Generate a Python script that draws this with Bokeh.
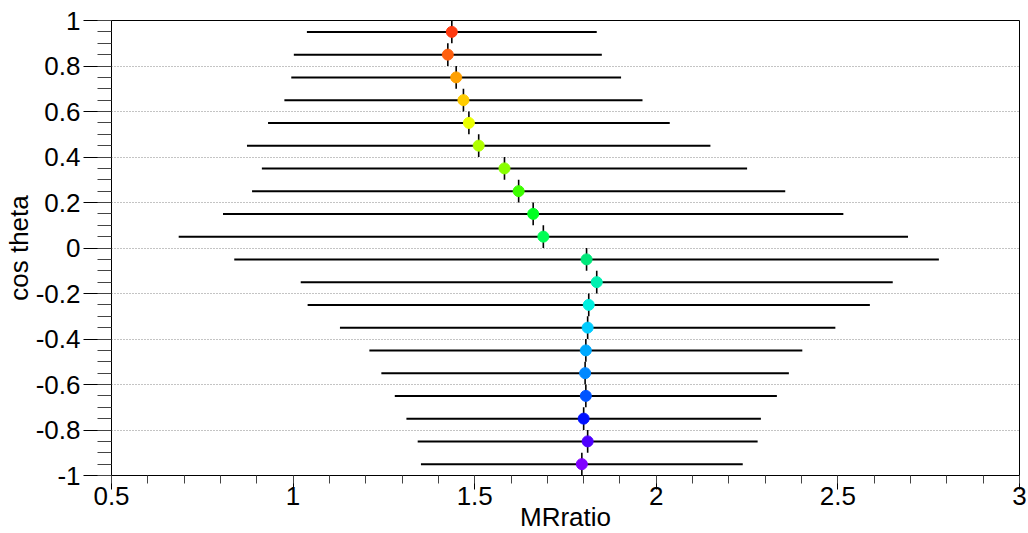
import math
from bokeh.plotting import figure
from bokeh.models import FixedTicker, CustomJSTickFormatter, Range1d, ColumnDataSource
from bokeh.embed import file_html
from bokeh.resources import INLINE

# ---- data ----
cos_theta = [0.95, 0.85, 0.75, 0.65, 0.55, 0.45, 0.35, 0.25, 0.15, 0.05,
             -0.05, -0.15, -0.25, -0.35, -0.45, -0.55, -0.65, -0.75, -0.85, -0.95]
mr_ratio = [1.437, 1.426, 1.449, 1.469, 1.484, 1.511, 1.582, 1.621, 1.661, 1.689,
            1.808, 1.836, 1.814, 1.811, 1.806, 1.804, 1.806, 1.800, 1.811, 1.795]
mr_err = [0.399, 0.424, 0.454, 0.493, 0.553, 0.638, 0.668, 0.734, 0.854, 1.004,
          0.970, 0.815, 0.774, 0.682, 0.596, 0.561, 0.526, 0.488, 0.468, 0.443]
cos_err = [0.05, 0.05, 0.05, 0.05, 0.05, 0.05, 0.05, 0.05, 0.05, 0.05,
           0.05, 0.05, 0.05, 0.05, 0.05, 0.05, 0.05, 0.05, 0.05, 0.05]
point_colors = ["#ff3a10", "#ff6010", "#ffa000", "#ffcc00", "#eaff00",
                "#b0ff00", "#88ff00", "#3cff00", "#00ff22", "#00ff55",
                "#00e87a", "#00f0b0", "#00f0e0", "#00ccff", "#00aaff",
                "#0088ff", "#0055ff", "#0010ff", "#5000ff", "#8000ff"]
x_ticks = [0.5, 1.0, 1.5, 2.0, 2.5, 3.0]
y_ticks = [-1.0, -0.8, -0.6, -0.4, -0.2, 0.0, 0.2, 0.4, 0.6, 0.8, 1.0]
x_title = "MRratio"
y_title = "cos theta"

src = ColumnDataSource(dict(
    x=mr_ratio, y=cos_theta,
    xlo=[m - e for m, e in zip(mr_ratio, mr_err)],
    xhi=[m + e for m, e in zip(mr_ratio, mr_err)],
    ylo=[c - e for c, e in zip(cos_theta, cos_err)],
    yhi=[c + e for c, e in zip(cos_theta, cos_err)],
    color=point_colors,
))

p = figure(frame_width=908, frame_height=455,
           x_range=Range1d(0.5, 3.0), y_range=Range1d(-1.0, 1.0),
           output_backend="svg", toolbar_location=None,
           min_border_left=111, min_border_top=20, min_border_bottom=58,
           min_border_right=9,
           background_fill_color="white", border_fill_color="white",
           x_axis_label=x_title, y_axis_label=y_title)

x_minor = [round(0.5 + 0.1 * i, 2) for i in range(26)]
y_minor = [round(-1.0 + 0.05 * i, 2) for i in range(41)]
p.xaxis.ticker = FixedTicker(ticks=x_ticks, minor_ticks=x_minor)
p.yaxis.ticker = FixedTicker(ticks=y_ticks, minor_ticks=y_minor)
fmt = CustomJSTickFormatter(code="return String(Number(tick.toFixed(2)));")
p.xaxis.formatter = fmt
p.yaxis.formatter = fmt

for ax in (p.xaxis, p.yaxis):
    ax.axis_line_color = "black"
    ax.axis_line_width = 1
    ax.major_tick_line_color = "black"
    ax.minor_tick_line_color = "#444444"
    ax.major_tick_in = 0
    ax.minor_tick_in = 0
    ax.major_label_text_font = "Liberation Sans"
    ax.major_label_text_font_size = "26px"
    ax.major_label_text_color = "black"
    ax.axis_label_text_font = "Liberation Sans"
    ax.axis_label_text_font_size = "26px"
    ax.axis_label_text_font_style = "normal"
    ax.axis_label_text_color = "black"

p.xaxis.major_tick_out = 14
p.xaxis.minor_tick_out = 8
p.xaxis.major_label_standoff = -3
p.xaxis.axis_label_standoff = -6
p.yaxis.major_tick_out = 28
p.yaxis.minor_tick_out = 14
p.yaxis.major_label_standoff = 3
p.yaxis.axis_label_standoff = -1

p.xgrid.visible = False
p.ygrid.ticker = FixedTicker(ticks=y_ticks)
p.ygrid.grid_line_color = "#888888"
p.ygrid.grid_line_dash = "1 2"
p.ygrid.grid_line_width = 1

p.outline_line_color = "black"
p.outline_line_width = 1

p.segment(x0="xlo", y0="y", x1="xhi", y1="y", source=src, line_color="black", line_width=2)
p.segment(x0="x", y0="ylo", x1="x", y1="yhi", source=src, line_color="black", line_width=1.6)
p.scatter(x="x", y="y", source=src, size=11, fill_color="color", line_color="color")

open("out.html", "w").write(file_html(p, INLINE))
